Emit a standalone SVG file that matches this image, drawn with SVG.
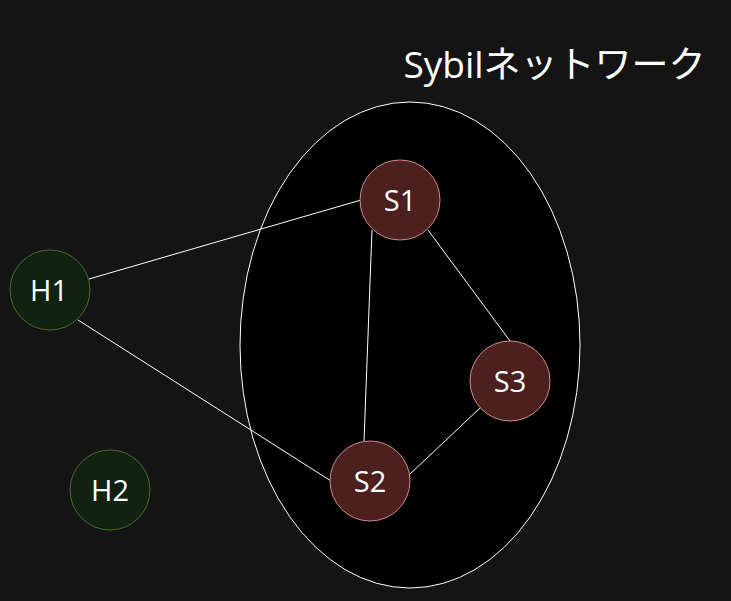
<svg xmlns="http://www.w3.org/2000/svg" width="731" height="601" viewBox="0 0 731 601">
<style>
.h{fill:#112211;stroke:#4c6e2c;stroke-width:1}
.s{fill:#4d2020;stroke:#d48a8a;stroke-width:1}
.t{fill:#ffffff;font-family:"Open Sans","Noto Sans CJK JP",sans-serif;font-size:29px;text-anchor:middle}
.e{stroke:#ffffff;stroke-width:1;fill:none}
</style>
<rect width="731" height="601" fill="#141414"/>
<g id="sybil-group">
<ellipse cx="410" cy="345" rx="170" ry="243" fill="#000000" stroke="#ffffff" stroke-width="1"/>
<text x="554.5" y="78" fill="#ffffff" font-family="'Open Sans','Noto Sans CJK JP',sans-serif" font-size="37" text-anchor="middle">Sybilネットワーク</text>
</g>
<g id="connectors">
<line class="e" x1="89" y1="279" x2="361" y2="200"/>
<line class="e" x1="78" y1="320" x2="331" y2="481"/>
<line class="e" x1="372" y1="230" x2="364" y2="441"/>
<line class="e" x1="428" y1="230" x2="510" y2="341"/>
<line class="e" x1="480" y1="408" x2="409" y2="475"/>
</g>
<g id="H1"><circle class="h" cx="50" cy="290" r="40"/><text class="t" x="49" y="301">H1</text></g>
<g id="H2"><circle class="h" cx="110" cy="490" r="40"/><text class="t" x="110" y="501">H2</text></g>
<g id="S1"><circle class="s" cx="400" cy="200" r="40"/><text class="t" x="400" y="211">S1</text></g>
<g id="S2"><circle class="s" cx="370" cy="481" r="40"/><text class="t" x="370" y="492">S2</text></g>
<g id="S3"><circle class="s" cx="510" cy="381" r="40"/><text class="t" x="510" y="392">S3</text></g>
</svg>
